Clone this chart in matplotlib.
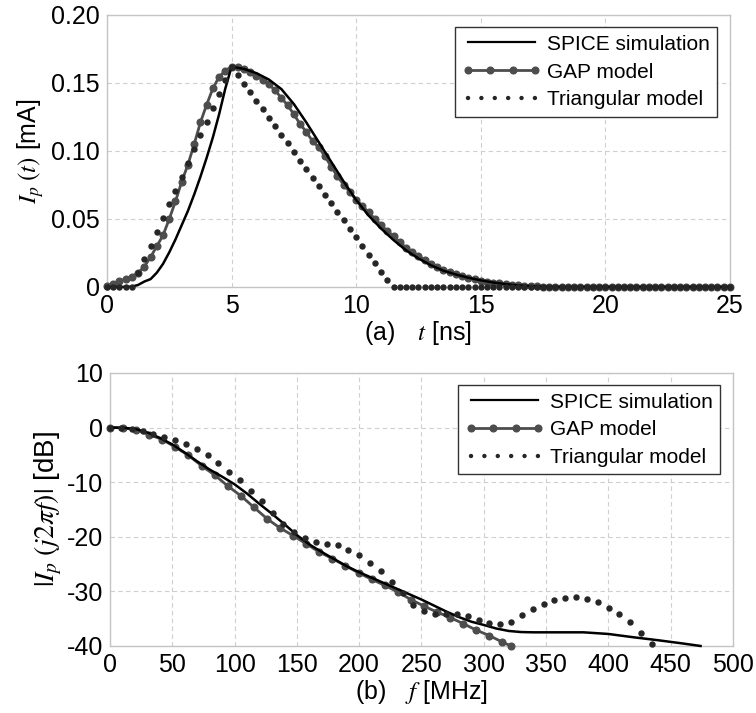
import numpy as np
import matplotlib
matplotlib.use('Agg')
import matplotlib.pyplot as plt
from matplotlib.lines import Line2D

plt.rcParams['font.family'] = ['Liberation Sans', 'DejaVu Sans']
plt.rcParams['mathtext.fontset'] = 'stix'
plt.rcParams['axes.unicode_minus'] = False

# ---- (a) time domain, I_p(t) in mA ----
t_spice = [0, 0.5, 1.0, 1.25, 1.5, 1.75, 2.0, 2.25, 2.5, 2.75, 3.0, 3.25, 3.5, 3.75,
           4.0, 4.25, 4.5, 4.75, 5.0, 5.5, 6.0, 6.5, 7.0, 7.5, 8.0, 8.5, 9.0, 9.5,
           10.0, 10.5, 11.0, 11.5, 12.0, 12.5, 13.0, 13.5, 14.0, 14.5, 15.0, 15.5,
           16.0, 16.5, 17.0, 17.5, 18.0, 25.0]
i_spice = [0, 0, 0.0002, 0.0015, 0.004, 0.0058, 0.0105, 0.017, 0.0255, 0.035, 0.0455,
           0.056, 0.068, 0.081, 0.095, 0.110, 0.127, 0.146, 0.162, 0.1603, 0.1572,
           0.1525, 0.1455, 0.1345, 0.121, 0.1065, 0.092, 0.0775, 0.064, 0.0525, 0.043,
           0.0345, 0.027, 0.021, 0.016, 0.012, 0.0092, 0.0068, 0.0049, 0.0033, 0.0021,
           0.0012, 0.0006, 0.0002, 0, 0]

# models are sampled every 0.25 ns from 0 to 25 ns
t_model = np.arange(101) * 0.25
i_gap = ([0.001, 0.0024, 0.0042, 0.006, 0.0077, 0.0104, 0.015, 0.022, 0.030, 0.038,
          0.050, 0.063, 0.0775, 0.090, 0.105, 0.121, 0.134, 0.146, 0.1545, 0.159, 0.162,
          0.1615, 0.160, 0.158, 0.155, 0.1525, 0.149, 0.1445, 0.139, 0.1336, 0.127,
          0.1198, 0.114, 0.1072, 0.1027, 0.096, 0.0885, 0.0813, 0.0752, 0.0697, 0.0641,
          0.0596, 0.0548, 0.0502, 0.0456, 0.041, 0.0375, 0.0328, 0.029, 0.026, 0.0228,
          0.020, 0.0172, 0.015, 0.0128, 0.011, 0.0094, 0.0079, 0.0067, 0.0056, 0.0047,
          0.0039, 0.0032, 0.0026, 0.0021, 0.0016, 0.0012, 0.0009, 0.0006, 0.0004,
          0.0003, 0.0002, 0.0001] + [0.0] * 28)
i_tri = ([0, 0, 0, 0, 0, 0.0101, 0.0203, 0.0304, 0.0405, 0.0506, 0.0608, 0.0709,
          0.081, 0.0911, 0.1013, 0.1114, 0.1215, 0.1316, 0.1418, 0.1519, 0.162,
          0.1557, 0.1494, 0.1431, 0.1369, 0.1306, 0.1243, 0.118, 0.1117, 0.1055,
          0.0992, 0.0929, 0.0866, 0.0803, 0.0741, 0.0678, 0.0615, 0.0552, 0.0489,
          0.0427, 0.0364, 0.0301, 0.0238, 0.0176, 0.0113, 0.005] + [0.0] * 55)

# ---- (b) frequency domain, |I_p(j2pi f)| in dB ----
f_spice = [0, 10, 20, 30, 40, 50, 60, 70, 80, 90, 100, 110, 120, 130, 140, 150, 160,
           170, 180, 190, 200, 210, 220, 230, 240, 250, 260, 270, 280, 290, 300, 310,
           320, 330, 340, 360, 380, 400, 420, 440, 460, 474]
db_spice = [0, -0.05, -0.25, -0.9, -1.9, -3.1, -4.6, -6.2, -7.7, -9.0, -10.4, -12.1,
            -14.0, -15.8, -17.7, -19.7, -21.4, -22.8, -24.1, -25.4, -26.5, -27.5,
            -28.5, -29.5, -30.5, -31.5, -32.6, -33.7, -34.7, -35.55, -36.15, -36.8,
            -37.25, -37.45, -37.5, -37.5, -37.5, -37.8, -38.4, -38.95, -39.55, -40.0]

f_gap = [0, 10.5, 21, 31.5, 42, 52.5, 63, 73.5, 84, 94.5, 105, 115.5, 126, 136.5,
         147, 157.5, 168, 178.5, 189, 199.5, 210, 220.5, 231, 241.5, 252, 262.5,
         273, 283.5, 294, 304.5, 315, 322]
db_gap = [0, -0.05, -0.45, -1.3, -2.2, -3.6, -5.1, -7.0, -8.7, -10.7, -12.5, -14.6,
          -16.7, -18.4, -19.8, -21.3, -22.8, -24.0, -25.3, -26.6, -27.8, -28.9,
          -30.1, -31.5, -32.7, -33.8, -34.8, -35.9, -37.1, -38.1, -39.3, -40.0]

f_tri = [0, 8.7, 17.4, 26.1, 34.8, 43.5, 52.2, 60.9, 69.6, 78.3, 87, 95.7, 104.4,
         113.1, 121.8, 130.5, 139.2, 147.9, 156.6, 165.3, 174, 182.7, 191.4, 200.1,
         208.8, 217.5, 226.2, 234.9, 243.6, 252.3, 261, 269.7, 278.4, 287.1, 295.8,
         304.5, 313.2, 321.9, 330.6, 339.3, 348, 356.7, 365.4, 374.1, 382.8, 391.5,
         400.2, 408.9, 417.6, 426.3, 435]
db_tri = [0, -0.05, -0.3, -0.7, -1.1, -1.7, -2.2, -3.05, -4.0, -5.1, -6.5, -8.1, -9.6,
          -11.6, -13.5, -15.6, -17.6, -19.2, -20.2, -21.0, -21.3, -21.6, -22.4, -23.3,
          -24.8, -26.3, -28.2, -30.3, -32.5, -33.6, -34.1, -34.1, -34.1, -34.6, -35.2,
          -35.8, -36.0, -35.6, -34.4, -33.3, -32.3, -31.6, -31.2, -31.0, -31.35, -32.0,
          -33.0, -34.2, -35.7, -37.7, -39.6]

GRID_C = '#cfcfcf'
SPINE_C = '#c4c4c4'
GAP_C = '#4d4d4d'
TRI_C = '#262626'


def style_axes(ax):
  ax.grid(True, color=GRID_C, linestyle=(0, (4, 3)), linewidth=0.8)
  ax.set_axisbelow(True)
  for sp in ax.spines.values():
    sp.set_color(SPINE_C)
    sp.set_linewidth(1.0)
  ax.tick_params(length=0, labelsize=18, pad=5)


def draw_curves(ax, xs, ys, xg, yg, xt, yt):
  ax.plot(xg, yg, color=GAP_C, lw=2.0, marker='o', ms=4.8, mec=GAP_C,
          mfc=GAP_C, zorder=3, clip_on=False)
  ax.plot(xs, ys, color='black', lw=1.8, zorder=4, clip_on=False)
  ax.plot(xt, yt, ls='none', marker='o', ms=3.6, color=TRI_C, zorder=5,
          clip_on=False)


def add_legend(ax):
  handles = [
    Line2D([], [], color='black', lw=1.6),
    Line2D([], [], color=GAP_C, lw=2.0, marker='o', ms=4.8),
    Line2D([], [], color=TRI_C, lw=3.2, ls=(0, (0.01, 3.0)), dash_capstyle='round'),
  ]
  labels = ['SPICE simulation', 'GAP model', 'Triangular model']
  leg = ax.legend(handles, labels, loc='upper right', fontsize=15, numpoints=4,
                  handlelength=3.8, handletextpad=0.3, fancybox=False,
                  framealpha=1, edgecolor='#333333', borderpad=0.35,
                  labelspacing=0.42, borderaxespad=0.6)
  leg.get_frame().set_linewidth(1.0)


fig = plt.figure(figsize=(7.56, 7.13), dpi=100)

ax1 = fig.add_axes([0.1415, 0.5975, 0.824, 0.3815])
style_axes(ax1)
draw_curves(ax1, t_spice, i_spice, t_model, i_gap, t_model, i_tri)
ax1.set_xlim(0, 25)
ax1.set_ylim(0, 0.2)
ax1.set_xticks([0, 5, 10, 15, 20, 25])
ax1.set_yticks([0, 0.05, 0.10, 0.15, 0.20])
ax1.set_yticklabels(['0', '0.05', '0.10', '0.15', '0.20'])
ax1.set_xlabel(r'(a)$\quad\;t$ [ns]', fontsize=18, labelpad=1)
ax1.set_ylabel(r'$I_p\;(t)$ [mA]', fontsize=18, labelpad=4)
add_legend(ax1)

ax2 = fig.add_axes([0.1455, 0.094, 0.824, 0.383])
style_axes(ax2)
draw_curves(ax2, f_spice, db_spice, f_gap, db_gap, f_tri, db_tri)
ax2.set_xlim(0, 500)
ax2.set_ylim(-40, 10)
ax2.set_xticks(range(0, 501, 50))
ax2.set_yticks([-40, -30, -20, -10, 0, 10])
ax2.set_xlabel(r'(b)$\quad\;f$ [MHz]', fontsize=18, labelpad=1)
ax2.set_ylabel(r'$|I_p\;(j2\pi f)|$ [dB]', fontsize=20, labelpad=2)
add_legend(ax2)

fig.savefig('out.png', dpi=100)
